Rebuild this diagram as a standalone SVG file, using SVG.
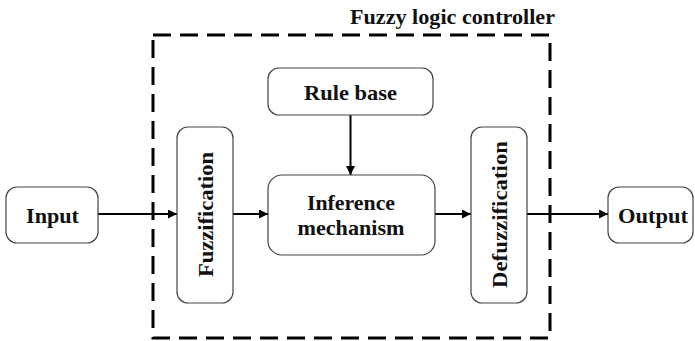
<svg xmlns="http://www.w3.org/2000/svg" width="695" height="341" viewBox="0 0 695 341">
  <style>
    .box { fill: #ffffff; stroke: #444444; stroke-width: 1.2; }
    .lbl { font-family: "Liberation Serif", "DejaVu Serif", serif; font-weight: bold; font-size: 21px; fill: #111111; text-anchor: middle; }
    .wire { stroke: #000000; stroke-width: 2; fill: none; marker-end: url(#tip); }
    .frame { fill: none; stroke: #000000; stroke-width: 3; stroke-dasharray: 18 9; }
  </style>
  <defs>
    <marker id="tip" viewBox="0 0 10 10" refX="10" refY="5" markerWidth="4.5" markerHeight="4.5" markerUnits="strokeWidth" orient="auto">
      <path d="M0,0 L10,5 L0,10 z" fill="#000000"/>
    </marker>
  </defs>
  <rect width="695" height="341" fill="#ffffff"/>

  <!-- controller boundary -->
  <g id="controller">
    <rect class="frame" x="153" y="35" width="397" height="303"/>
    <text class="lbl" x="452.5" y="24" font-size="18" textLength="205" lengthAdjust="spacingAndGlyphs">Fuzzy logic controller</text>
  </g>

  <!-- connectors -->
  <g id="connectors">
    <line class="wire" x1="98" y1="214" x2="177" y2="214"/>
    <line class="wire" x1="233" y1="214" x2="268" y2="214"/>
    <line class="wire" x1="350.5" y1="115" x2="350.5" y2="175"/>
    <line class="wire" x1="435" y1="214" x2="471" y2="214"/>
    <line class="wire" x1="527" y1="214" x2="608" y2="214"/>
  </g>

  <g id="input">
    <rect class="box" x="6" y="187" width="92" height="56" rx="11"/>
    <text class="lbl" x="52.5" y="223" textLength="53" lengthAdjust="spacingAndGlyphs">Input</text>
  </g>

  <g id="fuzzification">
    <rect class="box" x="177" y="127" width="56" height="176" rx="11"/>
    <text class="lbl" transform="translate(212.5,214.5) rotate(-90)" x="0" y="0" textLength="125" lengthAdjust="spacingAndGlyphs">Fuzzification</text>
  </g>

  <g id="rule-base">
    <rect class="box" x="268" y="68" width="165" height="47" rx="11"/>
    <text class="lbl" x="350.5" y="100" textLength="93" lengthAdjust="spacingAndGlyphs">Rule base</text>
  </g>

  <g id="inference">
    <rect class="box" x="268" y="175" width="167" height="80" rx="14"/>
    <text class="lbl" x="351" y="210" textLength="88" lengthAdjust="spacingAndGlyphs">Inference</text>
    <text class="lbl" x="351" y="235" textLength="107" lengthAdjust="spacingAndGlyphs">mechanism</text>
  </g>

  <g id="defuzzification">
    <rect class="box" x="471" y="127" width="56" height="176" rx="11"/>
    <text class="lbl" transform="translate(506.5,214.5) rotate(-90)" x="0" y="0" textLength="147" lengthAdjust="spacingAndGlyphs">Defuzzification</text>
  </g>

  <g id="output">
    <rect class="box" x="608" y="187" width="85" height="56" rx="11"/>
    <text class="lbl" x="653" y="223" textLength="70" lengthAdjust="spacingAndGlyphs">Output</text>
  </g>
</svg>
